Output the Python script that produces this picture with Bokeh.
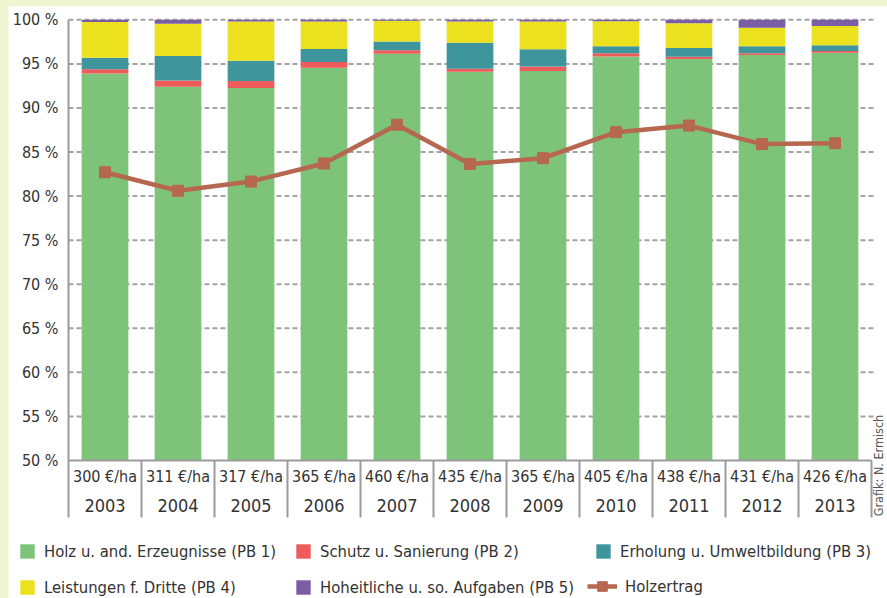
import numpy as np
from bokeh.plotting import figure
from bokeh.models import Range1d, Legend, LegendItem
from bokeh.core.properties import value
from bokeh.embed import file_html
from bokeh.resources import INLINE

# ---------------- data ----------------
years = ["2003", "2004", "2005", "2006", "2007", "2008", "2009", "2010", "2011", "2012", "2013"]
eur_per_ha = [300, 311, 317, 365, 460, 435, 365, 405, 438, 431, 426]
pb1 = [93.9, 92.4, 92.25, 94.55, 96.15, 94.1, 94.2, 95.85, 95.55, 96.0, 96.25]
pb2 = [0.5, 0.7, 0.8, 0.65, 0.4, 0.35, 0.5, 0.35, 0.25, 0.2, 0.2]
pb3 = [1.3, 2.8, 2.3, 1.5, 1.0, 2.95, 1.95, 0.8, 1.0, 0.8, 0.65]
pb4 = [4.05, 3.65, 4.45, 3.1, 2.35, 2.4, 3.15, 2.85, 2.8, 2.1, 2.2]
pb5 = [0.25, 0.45, 0.2, 0.2, 0.1, 0.2, 0.2, 0.15, 0.4, 0.9, 0.7]
holzertrag = [82.7, 80.6, 81.65, 83.7, 88.1, 83.65, 84.3, 87.25, 88.0, 85.9, 86.0]
y_ticks = [50, 55, 60, 65, 70, 75, 80, 85, 90, 95, 100]
series_labels = ["Holz u. and. Erzeugnisse (PB 1)", "Schutz u. Sanierung (PB 2)",
                 "Erholung u. Umweltbildung (PB 3)", "Leistungen f. Dritte (PB 4)",
                 "Hoheitliche u. so. Aufgaben (PB 5)"]
line_label = "Holzertrag"
credit = "Grafik: N. Ermisch"

# ---------------- style ----------------
FONT = "'DejaVu Sans Condensed', Roboto, sans-serif"
TXT = "#333333"
GRAY = "#9b9b9b"
colors = ["#7dc47a", "#ee5b5b", "#3f959c", "#ece11f", "#7a5ea5"]
LINE_C = "#b5674f"
PAGE_BG = "#eff5d1"

n = len(years)
xc = np.arange(n) + 0.5
base = 50.0
y_bottom_tab = 43.53
eur_row_y = 48.15
year_row_y = 44.84
label_x = -0.137

p = figure(width=879, height=592, output_backend="svg", toolbar_location=None,
           x_range=Range1d(-0.8219, 11.219), y_range=Range1d(34.34, 101.51),
           x_axis_location=None, y_axis_location=None,
           min_border_left=0, min_border_right=0, min_border_top=0, min_border_bottom=0,
           background_fill_color="white", border_fill_color="white", outline_line_color=None)
p.margin = (6, 0, 0, 8)
p.grid.visible = False

# y tick labels (percent scale)
p.text(x=[label_x] * len(y_ticks), y=y_ticks, text=[f"{t} %" for t in y_ticks],
       text_align="right", text_baseline="middle", text_font=value(FONT),
       text_font_size="16px", text_color=TXT)

# dashed grid lines
gy = [t for t in y_ticks if t > base]
p.segment(x0=[0] * len(gy), x1=[11.04] * len(gy), y0=gy, y1=gy,
          line_color="#a3a3a3", line_width=2, line_dash="5 3")

# stacked bars
vals = np.array([pb1, pb2, pb3, pb4, pb5])
tops = np.cumsum(vals, axis=0)
bottoms = np.vstack([np.full(n, base), tops[:-1]])
bars = []
for i in range(5):
    bars.append(p.vbar(x=xc, width=0.64, bottom=bottoms[i], top=tops[i],
                       fill_color=colors[i], line_color=None))

# axis lines and category table
p.segment(x0=[0], x1=[11.0], y0=[base], y1=[base], line_color=GRAY, line_width=2)
p.segment(x0=[0], x1=[0], y0=[y_bottom_tab], y1=[100], line_color=GRAY, line_width=2)
bounds = np.arange(1, n + 1)
p.segment(x0=bounds, x1=bounds, y0=[y_bottom_tab] * n, y1=[base] * n, line_color=GRAY, line_width=2)

p.text(x=xc, y=[eur_row_y] * n, text=[f"{v} €/ha" for v in eur_per_ha],
       text_align="center", text_baseline="middle", text_font=value(FONT),
       text_font_size="16px", text_color=TXT)
p.text(x=xc, y=[year_row_y] * n, text=years,
       text_align="center", text_baseline="middle", text_font=value(FONT),
       text_font_size="18px", text_color=TXT)

# Holzertrag line
line_r = p.line(x=xc, y=holzertrag, line_color=LINE_C, line_width=4.5)
mark_r = p.scatter(x=xc, y=holzertrag, marker="square", size=11, fill_color=LINE_C, line_color=LINE_C)

# credit
p.text(x=[11.1], y=[49.43], text=[credit], angle=np.pi / 2, text_align="center",
       text_baseline="middle", text_font=value(FONT), text_font_size="12.5px", text_color="#555555")

# ---------------- legends ----------------
def add_leg(label, rends, loc, gw=18, gh=18):
    lg = Legend(items=[LegendItem(label=label, renderers=rends)], location=loc,
                glyph_width=gw, glyph_height=gh, label_standoff=8, padding=0, margin=0,
                border_line_color=None, background_fill_alpha=0,
                label_text_font=FONT, label_text_font_size="16.5px", label_text_color=TXT,
                label_height=20)
    p.add_layout(lg, "center")

add_leg(series_labels[0], [bars[0]], (10, 37))
add_leg(series_labels[1], [bars[1]], (286, 37))
add_leg(series_labels[2], [bars[2]], (586, 37))
add_leg(series_labels[3], [bars[3]], (10, 1))
add_leg(series_labels[4], [bars[4]], (286, 1))
add_leg(line_label, [line_r, mark_r], (579, 0), gw=30, gh=24)

html = file_html(p, INLINE)
html = html.replace("</head>", "<style>html, body { background: %s !important; }</style></head>" % PAGE_BG, 1)
open("out.html", "w").write(html)
